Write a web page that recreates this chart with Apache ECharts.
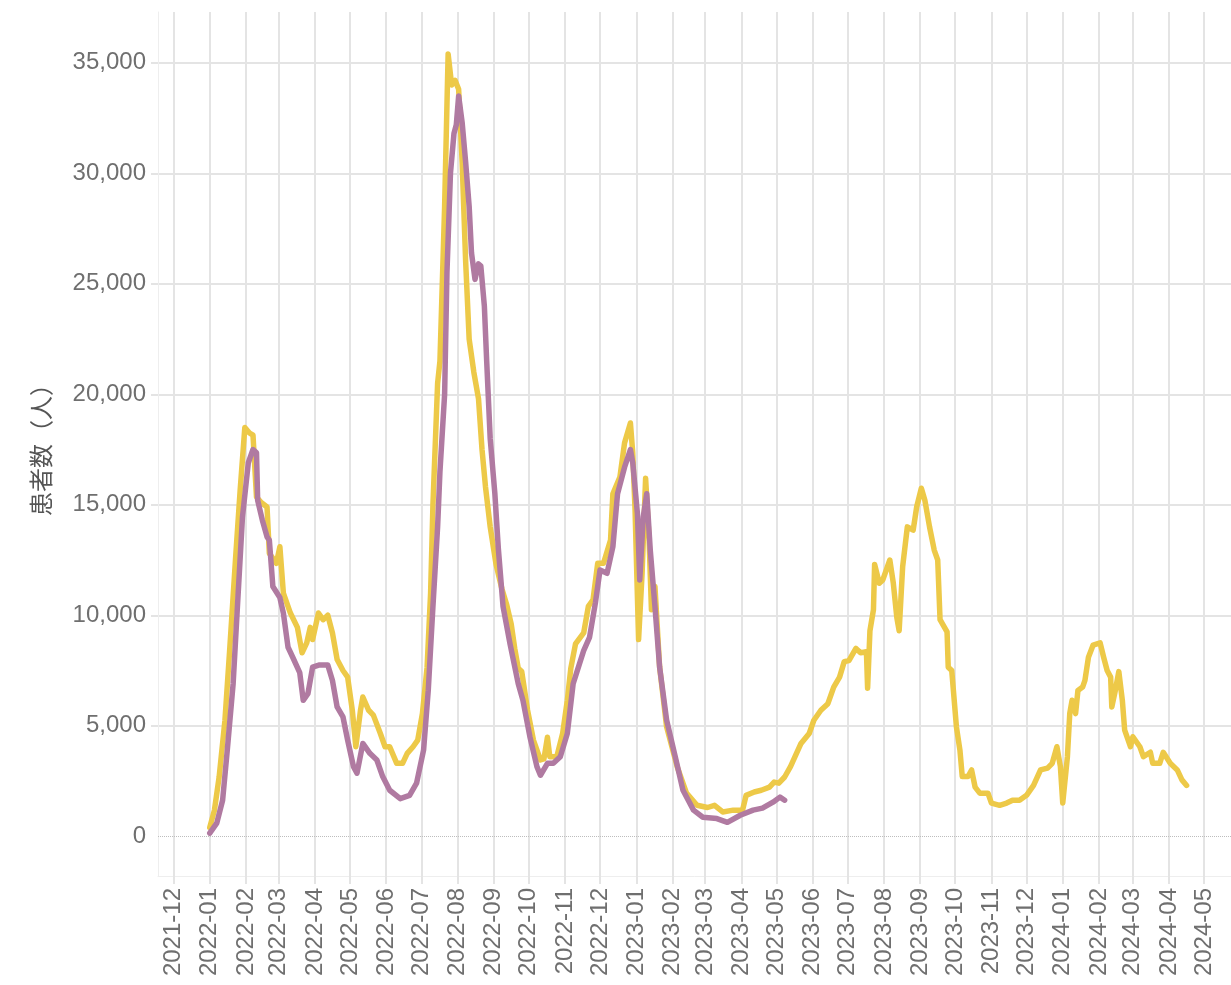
<!DOCTYPE html>
<html>
<head>
<meta charset="utf-8">
<script src="https://cdn.jsdelivr.net/npm/echarts@6/dist/echarts.min.js"></script>
<style>
  html, body { margin: 0; padding: 0; background: #fff; }
  #chart { width: 1231px; height: 985px; }
</style>
</head>
<body>
<div id="chart"></div>
<script>
// month tick labels on the date axis
const monthTicks = [
  '2021-12', '2022-01', '2022-02', '2022-03', '2022-04', '2022-05', '2022-06',
  '2022-07', '2022-08', '2022-09', '2022-10', '2022-11', '2022-12',
  '2023-01', '2023-02', '2023-03', '2023-04', '2023-05', '2023-06',
  '2023-07', '2023-08', '2023-09', '2023-10', '2023-11', '2023-12',
  '2024-01', '2024-02', '2024-03', '2024-04', '2024-05'
]
const yTicks = [0, 5000, 10000, 15000, 20000, 25000, 30000, 35000]

// yellow series (runs to 2024-04)
const yellowDates = [
  '2022-01-01', '2022-01-05', '2022-01-09', '2022-01-14', '2022-01-18', '2022-01-23', '2022-01-27', '2022-01-31',
  '2022-02-04', '2022-02-07', '2022-02-10', '2022-02-14', '2022-02-19', '2022-02-21', '2022-02-27',
  '2022-03-02', '2022-03-05', '2022-03-11', '2022-03-17', '2022-03-21', '2022-03-25', '2022-03-28', '2022-03-30',
  '2022-04-04', '2022-04-08', '2022-04-12', '2022-04-16', '2022-04-20', '2022-04-25', '2022-04-29',
  '2022-05-03', '2022-05-06', '2022-05-10', '2022-05-12', '2022-05-17', '2022-05-21', '2022-05-27', '2022-05-31',
  '2022-06-04', '2022-06-10', '2022-06-15', '2022-06-19', '2022-06-24', '2022-06-28',
  '2022-07-02', '2022-07-06', '2022-07-09', '2022-07-11', '2022-07-15', '2022-07-17', '2022-07-21', '2022-07-24', '2022-07-27', '2022-07-30',
  '2022-08-02', '2022-08-05', '2022-08-08', '2022-08-11', '2022-08-15', '2022-08-19', '2022-08-22', '2022-08-25', '2022-08-29',
  '2022-09-03', '2022-09-08', '2022-09-12', '2022-09-16', '2022-09-19', '2022-09-22', '2022-09-25', '2022-09-30',
  '2022-10-05', '2022-10-11', '2022-10-14', '2022-10-17', '2022-10-19', '2022-10-25', '2022-10-30',
  '2022-11-03', '2022-11-06', '2022-11-10', '2022-11-17', '2022-11-21', '2022-11-25', '2022-11-29',
  '2022-12-04', '2022-12-10', '2022-12-12', '2022-12-18', '2022-12-22', '2022-12-27', '2022-12-29', '2022-12-31',
  '2023-01-03', '2023-01-06', '2023-01-09', '2023-01-12', '2023-01-14', '2023-01-17', '2023-01-21', '2023-01-27',
  '2023-02-05', '2023-02-13', '2023-02-22',
  '2023-03-03', '2023-03-09', '2023-03-16', '2023-03-25',
  '2023-04-02', '2023-04-05', '2023-04-12', '2023-04-18', '2023-04-25', '2023-04-29',
  '2023-05-03', '2023-05-08', '2023-05-13', '2023-05-22', '2023-05-29',
  '2023-06-02', '2023-06-08', '2023-06-14', '2023-06-19', '2023-06-24', '2023-06-28',
  '2023-07-02', '2023-07-08', '2023-07-12', '2023-07-17', '2023-07-18', '2023-07-20', '2023-07-23', '2023-07-24', '2023-07-28', '2023-07-31',
  '2023-08-06', '2023-08-09', '2023-08-12', '2023-08-14', '2023-08-17', '2023-08-21', '2023-08-26', '2023-08-29',
  '2023-09-02', '2023-09-05', '2023-09-09', '2023-09-13', '2023-09-16', '2023-09-18', '2023-09-24', '2023-09-25', '2023-09-28',
  '2023-10-02', '2023-10-05', '2023-10-07', '2023-10-12', '2023-10-15', '2023-10-18', '2023-10-22', '2023-10-29',
  '2023-11-01', '2023-11-08', '2023-11-14', '2023-11-19', '2023-11-25',
  '2023-12-01', '2023-12-07', '2023-12-13', '2023-12-19', '2023-12-23', '2023-12-27', '2023-12-30',
  '2024-01-01', '2024-01-05', '2024-01-07', '2024-01-09', '2024-01-12', '2024-01-14', '2024-01-18', '2024-01-20', '2024-01-23', '2024-01-27',
  '2024-02-02', '2024-02-05', '2024-02-08', '2024-02-11', '2024-02-12', '2024-02-15', '2024-02-18', '2024-02-21', '2024-02-23', '2024-02-28',
  '2024-03-01', '2024-03-07', '2024-03-10', '2024-03-16', '2024-03-18', '2024-03-24', '2024-03-27',
  '2024-04-02', '2024-04-08', '2024-04-12', '2024-04-16'
]
const yellowValues = [
  400, 1180, 2670, 5250, 8400, 12500, 15650, 18500,
  18250, 18150, 15350, 15100, 14900, 12800, 12350,
  13100, 11000, 10100, 9450, 8300, 8750, 9450, 8900,
  10100, 9800, 10000, 9200, 8000, 7500, 7200,
  5700, 4050, 5700, 6300, 5700, 5480, 4650, 4050,
  4050, 3300, 3300, 3750, 4050, 4350,
  5550, 7650, 11000, 15000, 20500, 21500, 28500, 35400, 34000, 34200,
  33800, 30500, 26000, 22500, 21000, 19800, 17500, 15800, 14000,
  12300, 11200, 10500, 9600, 8500, 7600, 7450, 5700,
  4350, 3450, 3500, 4480, 3600, 3600, 4650,
  6150, 7600, 8700, 9200, 10400, 10700, 12350,
  12350, 13400, 15500, 16250, 17800, 18700, 17350, 14750,
  8900, 11900, 16200, 13400, 10250, 11300, 7650, 4950,
  3150, 1950, 1400,
  1300, 1400, 1100, 1180,
  1180, 1850, 2000, 2080, 2220, 2450,
  2400, 2680, 3150, 4200, 4650,
  5250, 5700, 6000, 6750, 7200, 7900,
  7950, 8500, 8300, 8350, 6700, 9300, 10250, 12300, 11450, 11600,
  12500, 11450, 9900, 9300, 12200, 14000, 13850, 14900,
  15750, 15200, 14000, 12950, 12500, 9800, 9250, 7650, 7500,
  4950, 3900, 2700, 2700, 3000, 2220, 1950, 1950,
  1500, 1400, 1500, 1630, 1630,
  1850, 2300, 3000, 3080, 3300, 4050, 3150,
  1500, 3600, 5550, 6150, 5550, 6600, 6750, 7050, 8100, 8650,
  8750, 8100, 7500, 7200, 5850, 6600, 7450, 6150, 4800, 4050,
  4500, 4050, 3600, 3800, 3300, 3300, 3800,
  3300, 3000, 2550, 2300
]

// purple series (ends 2023-05)
const purpleDates = [
  '2022-01-01', '2022-01-07', '2022-01-12', '2022-01-16', '2022-01-21', '2022-01-25', '2022-01-29',
  '2022-02-03', '2022-02-07', '2022-02-10', '2022-02-11', '2022-02-15', '2022-02-19', '2022-02-21', '2022-02-24',
  '2022-03-02', '2022-03-05', '2022-03-09', '2022-03-13', '2022-03-19', '2022-03-22', '2022-03-26', '2022-03-30',
  '2022-04-05', '2022-04-12', '2022-04-16', '2022-04-20', '2022-04-25', '2022-04-29',
  '2022-05-04', '2022-05-07', '2022-05-12', '2022-05-18', '2022-05-24', '2022-05-29',
  '2022-06-04', '2022-06-13', '2022-06-21', '2022-06-27',
  '2022-07-03', '2022-07-07', '2022-07-11', '2022-07-15', '2022-07-17', '2022-07-21', '2022-07-23', '2022-07-26', '2022-07-29', '2022-07-31',
  '2022-08-02', '2022-08-05', '2022-08-08', '2022-08-11', '2022-08-13', '2022-08-16', '2022-08-19', '2022-08-21', '2022-08-24', '2022-08-26', '2022-08-29',
  '2022-09-02', '2022-09-05', '2022-09-09', '2022-09-15', '2022-09-22', '2022-09-26',
  '2022-10-02', '2022-10-08', '2022-10-11', '2022-10-17', '2022-10-22', '2022-10-28',
  '2022-11-03', '2022-11-08', '2022-11-11', '2022-11-17', '2022-11-22', '2022-11-27',
  '2022-12-01', '2022-12-07', '2022-12-12', '2022-12-16', '2022-12-22', '2022-12-27', '2022-12-29',
  '2023-01-02', '2023-01-04', '2023-01-07', '2023-01-10', '2023-01-13', '2023-01-17', '2023-01-21', '2023-01-27',
  '2023-02-04', '2023-02-10', '2023-02-19', '2023-02-27',
  '2023-03-11', '2023-03-20', '2023-03-31',
  '2023-04-11', '2023-04-19', '2023-04-28',
  '2023-05-04', '2023-05-08'
]
const purpleValues = [
  140, 590, 1630, 3900, 6900, 10700, 14450,
  16900, 17500, 17350, 15200, 14300, 13550, 13400, 11300,
  10800, 10100, 8550, 8100, 7400, 6150, 6450, 7650,
  7750, 7750, 7050, 5850, 5400, 4350,
  3150, 2850, 4200, 3750, 3450, 2700,
  2080, 1700, 1850, 2400,
  3900, 6600, 10400, 14000, 16500, 20000, 25500, 30000, 31800, 32200,
  33500, 32300, 30500, 28500, 26400, 25200, 25900, 25800, 24000, 21500, 18000,
  15500, 13000, 10400, 8700, 6900, 6150,
  4500, 3150, 2760, 3300, 3300, 3600,
  4650, 6900, 7400, 8400, 9000, 10550,
  12050, 11900, 13100, 15500, 16700, 17500, 16900,
  14600, 11600, 14450, 15500, 12950, 10400, 7650, 5250,
  3450, 2080, 1180, 860,
  800, 630, 950,
  1180, 1270, 1540,
  1770, 1630
]

const DAY = 86400000
const toTime = (s) => Date.UTC(+s.slice(0, 4), +s.slice(5, 7) - 1, s.length > 7 ? +s.slice(8, 10) : 1)

const monthValues = monthTicks.map(m => toTime(m))
const yellowData = yellowDates.map((d, i) => [toTime(d), yellowValues[i]])
const purpleData = purpleDates.map((d, i) => [toTime(d), purpleValues[i]])

const gridColor = '#e4e4e4'
const labelColor = '#6f6f6f'

const chart = echarts.init(document.getElementById('chart'))

const option = {
  animation: false,
  grid: {
    left: 158,
    right: 0,
    top: 12,
    bottom: 109
  },
  xAxis: {
    type: 'value',
    min: toTime('2021-12') - 13.3 * DAY,
    max: toTime('2021-12') + 905 * DAY,
    axisLine: { show: true, onZero: false, lineStyle: { color: '#eeeeee', width: 1 } },
    axisTick: {
      show: true,
      customValues: monthValues,
      length: 8,
      lineStyle: { color: gridColor, width: 2 }
    },
    axisLabel: {
      customValues: monthValues,
      rotate: 90,
      margin: 12,
      color: labelColor,
      fontSize: 24,
      fontFamily: 'Liberation Sans, Arial, sans-serif',
      formatter: (val) => {
        const d = new Date(val)
        return d.getUTCFullYear() + '-' + String(d.getUTCMonth() + 1).padStart(2, '0')
      }
    },
    splitLine: { show: true, lineStyle: { color: gridColor, width: 2 } }
  },
  yAxis: {
    type: 'value',
    min: -1800,
    max: 37300,
    name: '患者数（人）',
    nameLocation: 'middle',
    nameGap: 105,
    nameTextStyle: {
      fontSize: 24,
      color: '#555555',
      fontFamily: 'Noto Sans CJK JP, sans-serif'
    },
    axisLine: { show: true, onZero: false, lineStyle: { color: '#eeeeee', width: 1 } },
    axisTick: {
      show: true,
      customValues: yTicks.filter(v => v !== 0),
      length: 7,
      lineStyle: { color: gridColor, width: 2 }
    },
    axisLabel: {
      customValues: yTicks,
      margin: 12,
      color: labelColor,
      fontSize: 24,
      fontFamily: 'Liberation Sans, Arial, sans-serif',
      formatter: (v) => v.toLocaleString('en-US')
    },
    splitLine: { show: true, lineStyle: { color: gridColor, width: 2 } }
  },
  series: [
    {
      name: '系列A',
      type: 'line',
      data: yellowData,
      showSymbol: false,
      symbol: 'none',
      lineStyle: { color: '#EDC948', width: 5.5, join: 'round', cap: 'round' },
      itemStyle: { color: '#EDC948' },
      markLine: {
        silent: true,
        symbol: 'none',
        label: { show: false },
        lineStyle: { type: 'dotted', color: '#bdbdbd', width: 1 },
        data: [{ yAxis: 0 }]
      }
    },
    {
      name: '系列B',
      type: 'line',
      data: purpleData,
      showSymbol: false,
      symbol: 'none',
      lineStyle: { color: '#B07AA1', width: 5.5, join: 'round', cap: 'round' },
      itemStyle: { color: '#B07AA1' }
    }
  ]
}

chart.setOption(option)
</script>
</body>
</html>
